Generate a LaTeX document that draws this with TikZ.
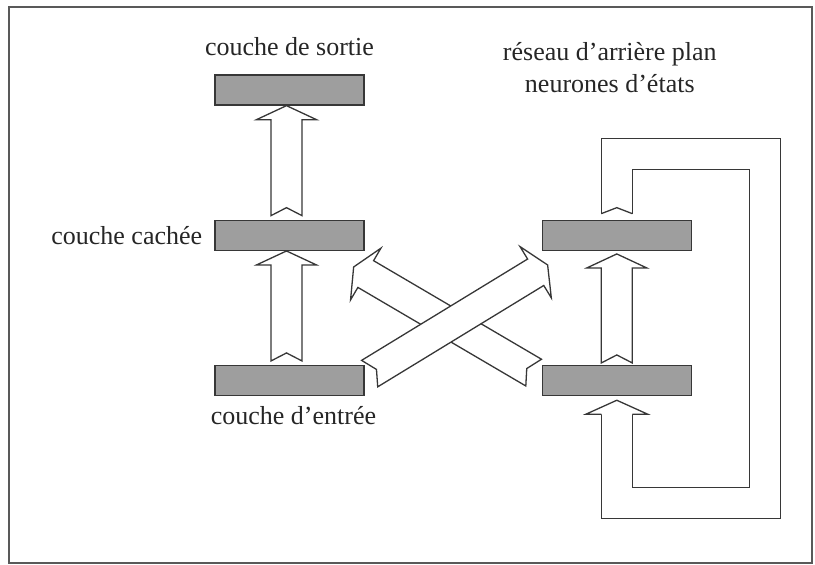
\documentclass[tikz,border=0pt]{standalone}
\usepackage{fontspec}
\setmainfont{Liberation Serif}
\usepackage{tikz}
\usetikzlibrary{positioning, calc}
\definecolor{barfill}{RGB}{158,158,158}
\definecolor{inkgray}{RGB}{55,55,55}

\newcommand{\fatarrow}[2]{%
  \draw[fat] let \p1=($(#2)-(#1)$), \n1={atan2(\y1,\x1)}, \n2={veclen(\x1,\y1)} in
    [shift={(#1)}, rotate=\n1]
    (0,15.5) -- (\n2-14,15.5) -- (\n2-14,30) -- (\n2,0) -- (\n2-14,-30)
    -- (\n2-14,-15.5) -- (0,-15.5) -- (8,0) -- cycle;}

\begin{document}
\begin{tikzpicture}[
    x=1pt, y=-1pt,
    node distance=114pt,
    bar/.style={rectangle, draw=inkgray, line width=1.3pt, fill=barfill, minimum width=149pt, minimum height=30pt, inner sep=0pt},
    fat/.style={draw=inkgray, line width=1.3pt, fill=white},
    fatline/.style={draw=inkgray, line width=1.3pt, double=white, double distance=29.7pt},
    lbl/.style={inner sep=0pt, text=black!85, font=\fontsize{26}{32}\selectfont}
]
\useasboundingbox (0,0) rectangle (815,565);
\draw[line width=1.6pt, black!65] (9,7) rectangle (812,563);

\node[bar] (out) at (289.5,90) {};
\node[bar, below=of out] (hid) {};
\node[bar, below=of hid] (in) {};
\node[bar, right=177pt of hid] (ctxtop) {};
\node[bar, below=of ctxtop] (ctxbot) {};

\node[lbl, above=18pt of out] (sortie) {couche de sortie};
\node[lbl, left=12pt of hid] (cachee) {couche cachée};
\node[lbl, below=10pt of in, xshift=4pt] (entree) {couche d’entrée};
\node[lbl, align=center, above=127pt of ctxtop, xshift=-7pt] (reseau) {réseau d’arrière plan\\neurones d’états};

\coordinate (v1a) at ($(in.north)+(-3,-4)$);
\coordinate (v1b) at ($(hid.south)+(-3,0)$);
\coordinate (v2a) at ($(hid.north)+(-3,-4)$);
\coordinate (v2b) at ($(out.south)+(-3,0)$);
\coordinate (v3a) at ($(ctxbot.north)+(0,-2)$);
\coordinate (v3b) at ($(ctxtop.south)+(0,3)$);
\coordinate (xa) at ($(in.east)+(5,-7)$);
\coordinate (xb) at ($(ctxtop.south west)+(6,14)$);
\coordinate (ya) at ($(ctxbot.west)+(-8,-8)$);
\coordinate (yb) at ($(hid.south east)+(-11,16)$);

\fatarrow{v1a}{v1b}
\fatarrow{v2a}{v2b}
\fatarrow{v3a}{v3b}
\fatarrow{ya}{yb}
\fatarrow{xa}{xb}

% feedback loop of the state layer
\draw[fatline] ($(ctxtop.north)+(0,-6)$) -- ++(0,-59.5) -- ++(148.5,0) -- ++(0,348.5) -| ($(ctxbot.south)+(0,18)$);
\draw[fat] ($(ctxtop.north)+(-15.5,-6)$) -- ($(ctxtop.north)+(0,-12)$) -- ($(ctxtop.north)+(15.5,-6)$);
\draw[fat] ($(ctxbot.south)+(-15.5,18)$) -- ++(-15.5,0) -- ($(ctxbot.south)+(0,4)$) -- ++(31,14) -- ++(-15.5,0);

\end{tikzpicture}
\end{document}
